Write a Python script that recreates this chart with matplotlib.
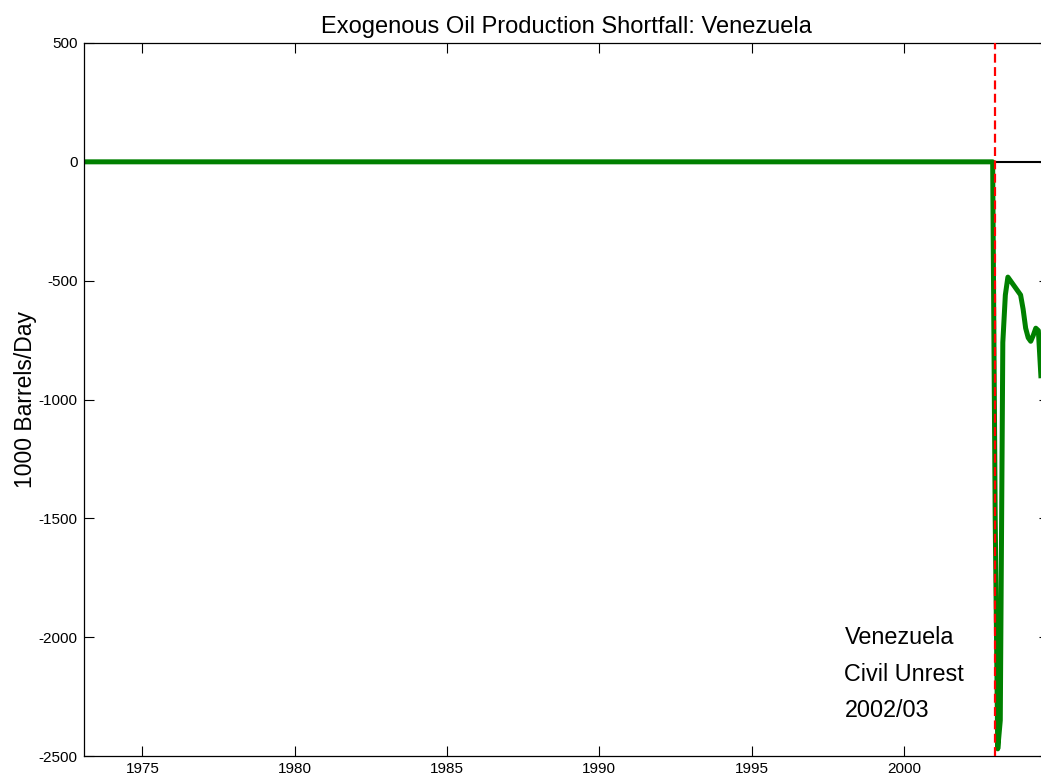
import matplotlib
matplotlib.use("Agg")
import matplotlib.pyplot as plt
import numpy as np

plt.rcParams['font.family'] = ['Liberation Sans', 'DejaVu Sans']

# ---- data -------------------------------------------------------------
start_year, start_month = 1973, 1          # first month of the series
end_year, end_month = 2004, 6              # last month drawn
quiet_until = (2002, 11)                   # shortfall is zero through Nov 2002

# shortfall (1000 barrels/day) from Dec 2002 onwards
event_values = [-1500, -2470, -2350, -760, -560, -485, -500, -515, -530,
                -545, -560, -620, -700, -740, -755, -730, -700, -710, -900]

event_date = 2003.0                        # red dashed marker
xlim = (1973 + 1 / 12, 2004.75)
ylim = (-2500, 500)
yticks = [-2500, -2000, -1500, -1000, -500, 0, 500]
xticks = [1975, 1980, 1985, 1990, 1995, 2000]
title = "Exogenous Oil Production Shortfall: Venezuela"
ylabel = "1000 Barrels/Day"
annotation = ["Venezuela", "Civil Unrest", "2002/03"]
annotation_y = [-2000, -2155, -2310]

# build monthly series
dates = []
y, m = start_year, start_month
while (y, m) <= (end_year, end_month):
    dates.append(y + m / 12)
    m += 1
    if m > 12:
        y, m = y + 1, 1
dates = np.array(dates)
n_zero = (quiet_until[0] - start_year) * 12 + (quiet_until[1] - start_month) + 1
values = np.array([0.0] * n_zero + event_values)

# ---- figure -----------------------------------------------------------
W, H = 1041, 780
fig = plt.figure(figsize=(W / 100, H / 100), dpi=100)
ax_left, ax_right, ax_top, ax_bottom = 84, 1048.5, 43, 756
ax = fig.add_axes([ax_left / W, (H - ax_bottom) / H,
                   (ax_right - ax_left) / W, (ax_bottom - ax_top) / H])

ax.axhline(0, color='black', lw=1.5, zorder=1)
ax.plot(dates, values, color='#008000', lw=3.6, zorder=2,
        solid_joinstyle='round')
ax.axvline(event_date, color='red', lw=1.6, ls=(0, (4, 2)), zorder=3)

ax.set_xlim(*xlim)
ax.set_ylim(*ylim)
ax.set_xticks(xticks)
ax.set_yticks(yticks)
ax.set_xticklabels([str(t) for t in xticks])
ax.set_yticklabels([str(t) for t in yticks])
ax.tick_params(direction='in', length=7.2, width=0.8, labelsize=11,
               top=True, right=True, pad=4.5, colors='black')
for s in ax.spines.values():
    s.set_linewidth(0.9)

ax.set_title(title, fontsize=17, pad=7)
ax.set_ylabel(ylabel, fontsize=16.5, labelpad=1)

for txt, yy in zip(annotation, annotation_y):
    ax.text(1998.05, yy, txt, fontsize=16.8, va='center', ha='left')

fig.savefig("out.png", dpi=100)
